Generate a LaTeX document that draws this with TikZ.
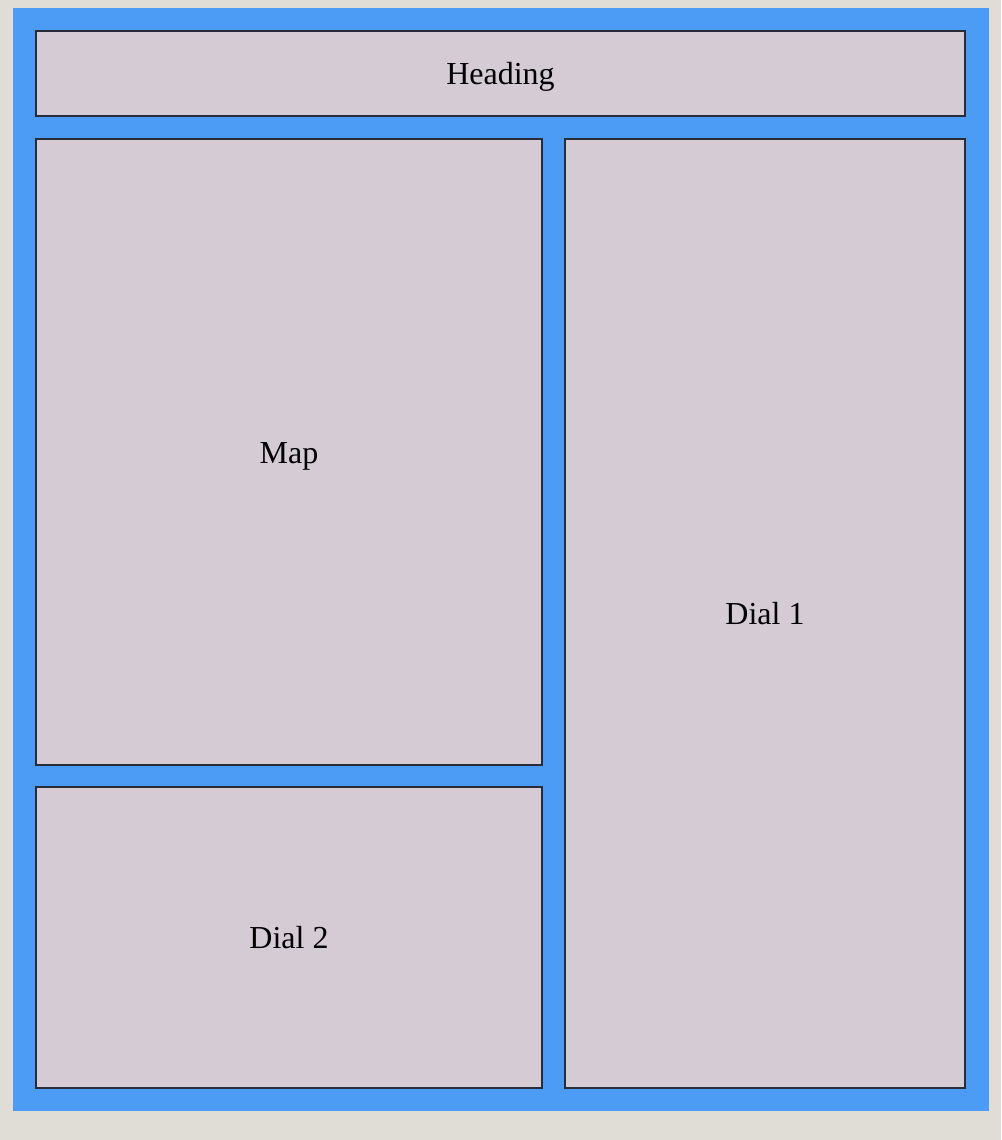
\documentclass[tikz,border=0pt]{standalone}
\usepackage{fontspec}
\setmainfont{Liberation Serif}
\definecolor{pagebg}{RGB}{224,221,214}
\definecolor{frameblue}{RGB}{76,155,245}
\definecolor{boxfill}{RGB}{213,203,213}
\definecolor{boxline}{RGB}{40,44,56}
\newcommand{\paneltext}[1]{\raisebox{-11pt}[0pt][0pt]{#1}}
\begin{document}
\begin{tikzpicture}[x=1pt,y=-1pt,
  panel/.style={draw=boxline, fill=boxfill, line width=2pt, inner sep=0pt,
    font=\fontsize{32}{38}\selectfont, text=black}]
\fill[pagebg] (0,0) rectangle (1001,1140);
\useasboundingbox (0,0) rectangle (1001,1140);
\fill[frameblue] (13,8) rectangle (989,1111);
\node[panel, minimum width=929pt, minimum height=85pt] (heading) at (500.5,73.5) {\paneltext{Heading}};
\node[panel, minimum width=506pt, minimum height=626pt] (map) at (289,452) {\paneltext{Map}};
\node[panel, minimum width=506pt, minimum height=301pt] (dialtwo) at (289,937.5) {\paneltext{Dial 2}};
\node[panel, minimum width=400pt, minimum height=949pt] (dialone) at (765,613.5) {\paneltext{Dial 1}};
\end{tikzpicture}
\end{document}
